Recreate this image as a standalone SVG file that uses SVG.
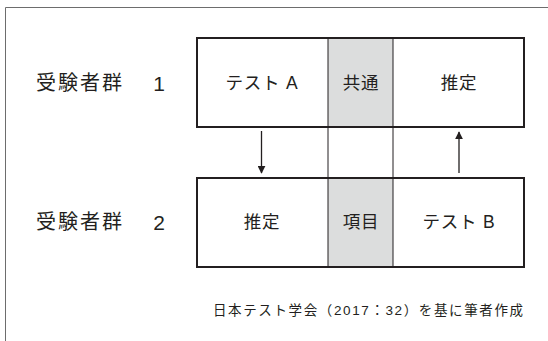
<svg xmlns="http://www.w3.org/2000/svg" width="548" height="341" viewBox="0 0 548 341">
<style>
.t{font-family:"Liberation Sans","Noto Sans CJK JP",sans-serif;fill:#231f20;dominant-baseline:central;text-anchor:middle}
.lbl{font-size:20px;letter-spacing:2px;text-anchor:start}
.num{font-size:21px}
.cell{font-size:17.5px;letter-spacing:0.8px}
.box{fill:none;stroke:#231f20;stroke-width:2}
.div{stroke:#231f20;stroke-width:1}
.gray{fill:#dcdddd}
.con{stroke:#231f20;stroke-width:1.3;fill:none}
</style>
<defs>
<marker id="ah" viewBox="0 0 10 10" refX="9" refY="5" markerWidth="8" markerHeight="8" markerUnits="userSpaceOnUse" orient="auto">
<path d="M0,0 L10,5 L0,10 z" fill="#231f20"/>
</marker>
</defs>
<rect x="0" y="0" width="548" height="341" fill="#fff"/>
<path d="M5.5,341 V7.5 H548" fill="none" stroke="#6d6d6d" stroke-width="1"/>
<g id="row1">
<rect class="gray" x="328" y="38" width="65" height="89"/>
<rect class="box" x="197" y="38" width="327" height="89"/>
<line class="div" x1="328" y1="38" x2="328" y2="127"/>
<line class="div" x1="393" y1="38" x2="393" y2="127"/>
<text class="t lbl" x="36" y="83">受験者群</text>
<text class="t num" x="159" y="83">1</text>
<text class="t cell" x="262" y="83">テスト A</text>
<text class="t cell" x="361" y="83">共通</text>
<text class="t cell" x="459" y="83">推定</text>
</g>
<g id="row2">
<rect class="gray" x="328" y="178" width="65" height="89"/>
<rect class="box" x="197" y="178" width="327" height="89"/>
<line class="div" x1="328" y1="178" x2="328" y2="267"/>
<line class="div" x1="393" y1="178" x2="393" y2="267"/>
<text class="t lbl" x="36" y="222">受験者群</text>
<text class="t num" x="159" y="222">2</text>
<text class="t cell" x="262" y="222">推定</text>
<text class="t cell" x="361" y="222">項目</text>
<text class="t cell" x="459" y="222">テスト B</text>
</g>
<g id="connectors">
<line class="div" x1="328" y1="127" x2="328" y2="178"/>
<line class="div" x1="393" y1="127" x2="393" y2="178"/>
<line class="con" x1="261.5" y1="131" x2="261.5" y2="173" marker-end="url(#ah)"/>
<line class="con" x1="459" y1="173" x2="459" y2="132" marker-end="url(#ah)"/>
</g>
<text class="t" x="523" y="310" style="font-size:13.5px;text-anchor:end" textLength="310" lengthAdjust="spacing">日本テスト学会（2017：32）を基に筆者作成</text>
</svg>
